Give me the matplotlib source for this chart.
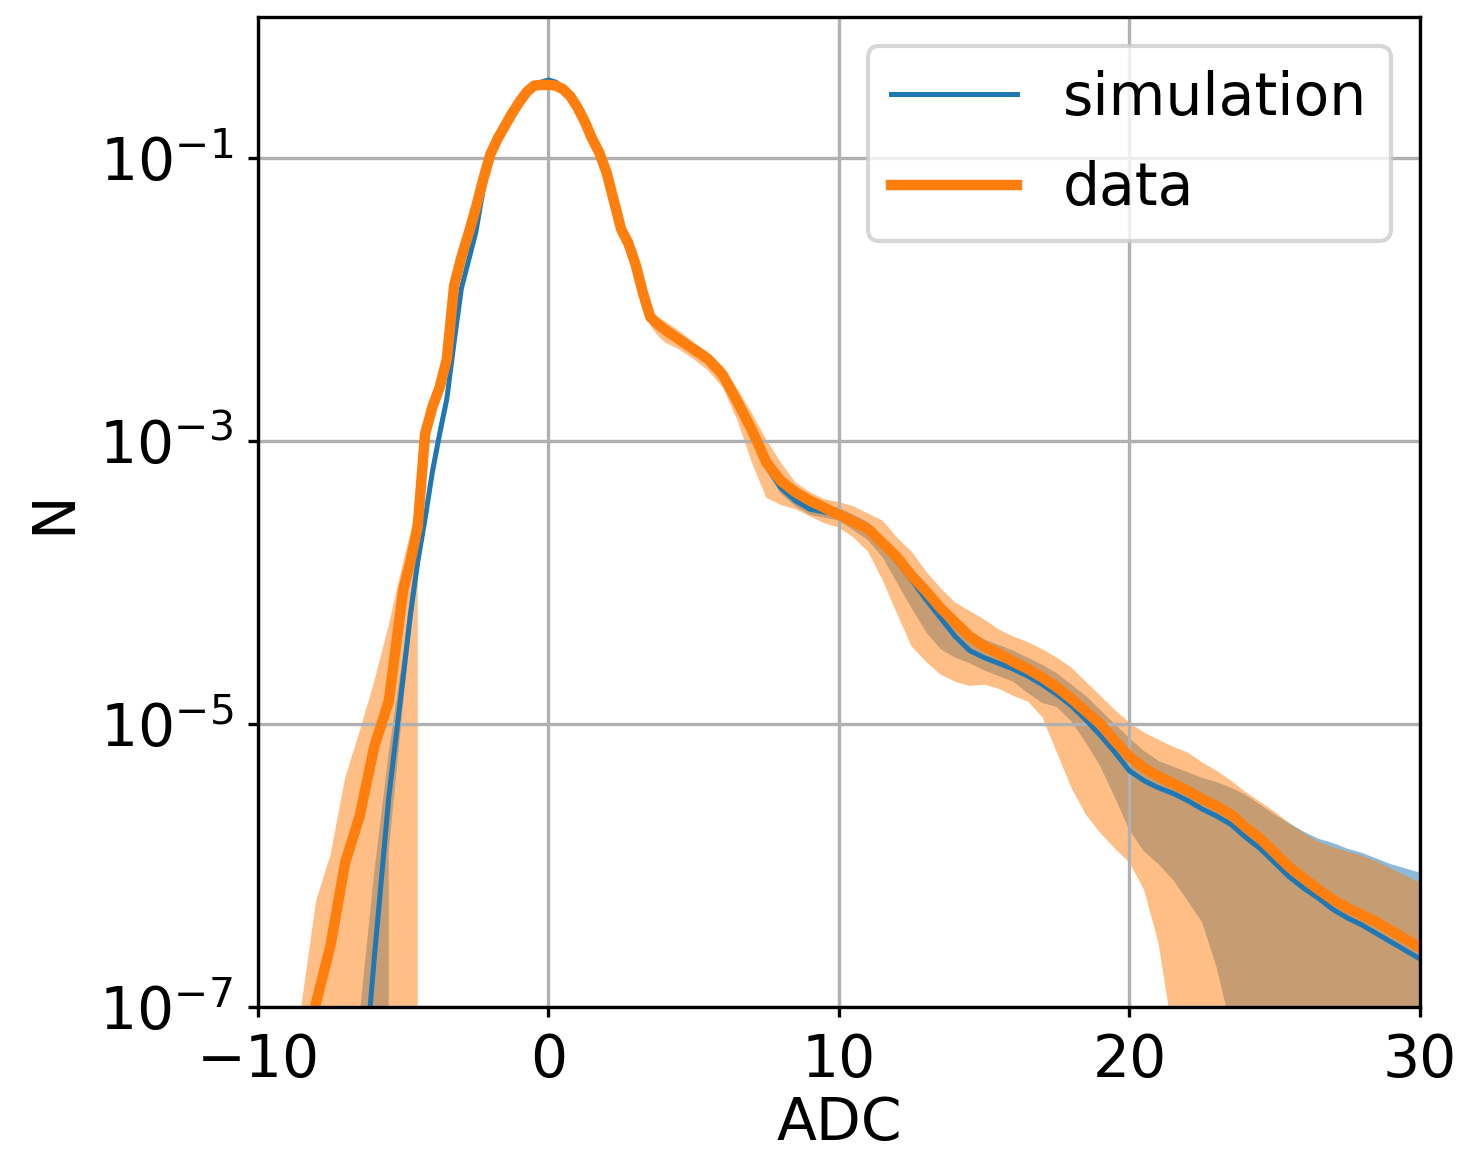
import numpy as np
import matplotlib.pyplot as plt
from matplotlib.ticker import NullLocator

# ADC grid shared by every series (finer around the pedestal peak)
adc = np.concatenate([
    np.arange(-8.5, -5.0, 0.5),
    np.arange(-5.0, 4.01, 0.25),
    np.arange(4.5, 30.01, 0.5),
])

# log10 of normalised counts, data
data_log = [
    -7.35, -6.97, -6.56, -5.98, -5.65, -5.16, -4.84,
    -4.05, -3.85, -3.60, -2.95, -2.76, -2.62, -2.42, -1.90, -1.70, -1.53,
    -1.35, -1.15, -0.97, -0.86, -0.77, -0.68, -0.60, -0.53, -0.485, -0.48,
    -0.48, -0.485, -0.51, -0.56, -0.64, -0.74, -0.86, -0.96, -1.10, -1.30,
    -1.50, -1.60, -1.75, -1.95, -2.12, -2.17, -2.21,
    -2.28, -2.35, -2.42, -2.53, -2.72, -2.92, -3.15, -3.28, -3.36, -3.42,
    -3.47, -3.52, -3.57, -3.62, -3.72, -3.82, -3.95, -4.06, -4.18, -4.28,
    -4.38, -4.45, -4.50, -4.56, -4.61, -4.67, -4.74, -4.82, -4.91, -5.00,
    -5.12, -5.23, -5.31, -5.37, -5.42, -5.47, -5.53, -5.58, -5.64, -5.73,
    -5.81, -5.91, -6.01, -6.09, -6.17, -6.24, -6.30, -6.35, -6.40, -6.46,
    -6.52, -6.58,
]
data_hi_log = [
    -6.98, -6.25, -5.92, -5.38, -5.05, -4.70, -4.30,
    -3.85, -3.65, -3.40, -2.87, -2.68, -2.55, -2.35, -1.85, -1.66, -1.50,
    -1.32, -1.12, -0.95, -0.84, -0.75, -0.66, -0.58, -0.51, -0.47, -0.465,
    -0.465, -0.47, -0.495, -0.54, -0.62, -0.72, -0.84, -0.93, -1.07, -1.26,
    -1.45, -1.55, -1.70, -1.89, -2.06, -2.12, -2.15,
    -2.22, -2.30, -2.37, -2.47, -2.63, -2.80, -2.99, -3.15, -3.29, -3.36,
    -3.41, -3.43, -3.46, -3.51, -3.56, -3.68, -3.78, -3.92, -4.04, -4.14,
    -4.20, -4.26, -4.33, -4.38, -4.42, -4.47, -4.53, -4.60, -4.70, -4.80,
    -4.90, -4.99, -5.06, -5.11, -5.16, -5.20, -5.27, -5.33, -5.40, -5.48,
    -5.55, -5.62, -5.70, -5.77, -5.83, -5.87, -5.90, -5.93, -5.97, -6.02,
    -6.07, -6.12,
]
data_lo_log = [
    None, None, None, None, None, None, None,
    None, None, -3.95, -3.05, -2.84, -2.69, -2.49, -1.96, -1.74, -1.56,
    -1.38, -1.18, -0.99, -0.88, -0.79, -0.70, -0.62, -0.55, -0.50, -0.495,
    -0.495, -0.50, -0.525, -0.58, -0.66, -0.76, -0.88, -0.99, -1.13, -1.34,
    -1.55, -1.65, -1.80, -2.01, -2.18, -2.25, -2.30,
    -2.35, -2.42, -2.50, -2.62, -2.85, -3.15, -3.40, -3.45, -3.48, -3.53,
    -3.58, -3.61, -3.68, -3.78, -3.98, -4.22, -4.45, -4.56, -4.65, -4.70,
    -4.73, -4.72, -4.75, -4.80, -4.84, -4.95, -5.20, -5.45, -5.64, -5.77,
    -5.88, -5.98, -6.17, -6.55, -7.20, None, None, None, None, None,
    None, None, None, None, None, None, None, None, None, None,
    None, None,
]

# log10 of normalised counts, simulation
sim_log = [
    -9.50, -9.00, -8.80, -8.40, -7.87, -6.66, -5.52,
    -4.66, -4.22, -3.85, -3.55, -3.22, -2.95, -2.70, -2.30, -1.92, -1.72,
    -1.52, -1.22, -1.00, -0.87, -0.77, -0.68, -0.60, -0.53, -0.49, -0.46,
    -0.445, -0.46, -0.50, -0.56, -0.64, -0.74, -0.875, -0.965, -1.105, -1.30,
    -1.50, -1.60, -1.75, -1.95, -2.12, -2.17, -2.205,
    -2.28, -2.35, -2.42, -2.53, -2.72, -2.93, -3.17, -3.33, -3.42, -3.48,
    -3.50, -3.52, -3.57, -3.63, -3.73, -3.85, -3.98, -4.12, -4.25, -4.38,
    -4.48, -4.53, -4.57, -4.61, -4.66, -4.72, -4.79, -4.87, -4.97, -5.08,
    -5.20, -5.33, -5.40, -5.45, -5.49, -5.54, -5.60, -5.65, -5.71, -5.80,
    -5.88, -5.98, -6.08, -6.16, -6.23, -6.31, -6.37, -6.42, -6.48, -6.54,
    -6.60, -6.66,
]
sim_hi_log = [
    -9.00, -8.50, -8.20, -7.80, -7.05, -6.05, -5.20,
    -4.50, -4.08, -3.75, -3.47, -3.14, -2.87, -2.64, -2.22, -1.87, -1.68,
    -1.46, -1.18, -0.98, -0.85, -0.76, -0.67, -0.59, -0.52, -0.48, -0.45,
    -0.435, -0.45, -0.49, -0.55, -0.63, -0.73, -0.86, -0.95, -1.09, -1.28,
    -1.48, -1.58, -1.73, -1.93, -2.10, -2.15, -2.18,
    -2.25, -2.32, -2.39, -2.50, -2.69, -2.90, -3.13, -3.29, -3.38, -3.43,
    -3.45, -3.47, -3.52, -3.57, -3.67, -3.77, -3.90, -4.02, -4.15, -4.27,
    -4.34, -4.40, -4.44, -4.48, -4.53, -4.58, -4.64, -4.72, -4.80, -4.90,
    -5.00, -5.10, -5.19, -5.26, -5.30, -5.34, -5.38, -5.41, -5.45, -5.50,
    -5.57, -5.64, -5.70, -5.76, -5.81, -5.84, -5.88, -5.91, -5.95, -5.99,
    -6.02, -6.05,
]
sim_lo_log = [
    None, None, None, None, None, None, -5.90,
    -4.85, -4.36, -3.95, -3.63, -3.30, -3.00, -2.76, -2.35, -1.96, -1.75,
    -1.51, -1.23, -1.02, -0.89, -0.79, -0.70, -0.61, -0.54, -0.50, -0.47,
    -0.455, -0.47, -0.51, -0.57, -0.65, -0.75, -0.89, -0.98, -1.12, -1.32,
    -1.52, -1.62, -1.77, -1.97, -2.14, -2.19, -2.23,
    -2.31, -2.38, -2.45, -2.56, -2.75, -2.96, -3.21, -3.37, -3.46, -3.52,
    -3.54, -3.56, -3.63, -3.70, -3.82, -4.00, -4.18, -4.35, -4.47, -4.53,
    -4.57, -4.62, -4.66, -4.70, -4.78, -4.85, -4.88, -4.98, -5.13, -5.30,
    -5.52, -5.75, -5.90, -5.99, -6.10, -6.25, -6.40, -6.72, -7.15, None,
    None, None, None, None, None, None, None, None, None, None,
    None, None,
]


def to_counts(logs):
    # None marks bins where the band reaches zero
    return np.array([0.0 if v is None else 10.0 ** v for v in logs])


data = to_counts(data_log)
data_hi = to_counts(data_hi_log)
data_lo = to_counts(data_lo_log)
sim = to_counts(sim_log)
sim_hi = to_counts(sim_hi_log)
sim_lo = to_counts(sim_lo_log)

plt.rcParams['font.size'] = 14

fig, ax = plt.subplots(figsize=(4.87, 3.84), dpi=300)
fig.subplots_adjust(left=0.1766, right=0.9719, bottom=0.1259, top=0.9852)

ax.fill_between(adc, sim_lo, sim_hi, color='C0', alpha=0.5, linewidth=0)
ax.fill_between(adc, data_lo, data_hi, color='C1', alpha=0.5, linewidth=0)
ax.plot(adc, sim, color='C0', lw=1.2, label='simulation')
ax.plot(adc, data, color='C1', lw=2.5, label='data')

ax.set_yscale('log')
ax.set_xlim(-10, 30)
ax.set_ylim(1e-7, 1)
ax.set_xticks([-10, 0, 10, 20, 30])
ax.set_yticks([1e-7, 1e-5, 1e-3, 1e-1])
ax.yaxis.set_minor_locator(NullLocator())
ax.tick_params(length=2.5)
ax.grid(True)
ax.set_xlabel('ADC', labelpad=1.5)
ax.set_ylabel('N')
ax.legend(loc='upper right', labelspacing=0.58, handlelength=2.15)

fig.savefig('out.png', dpi=300)
